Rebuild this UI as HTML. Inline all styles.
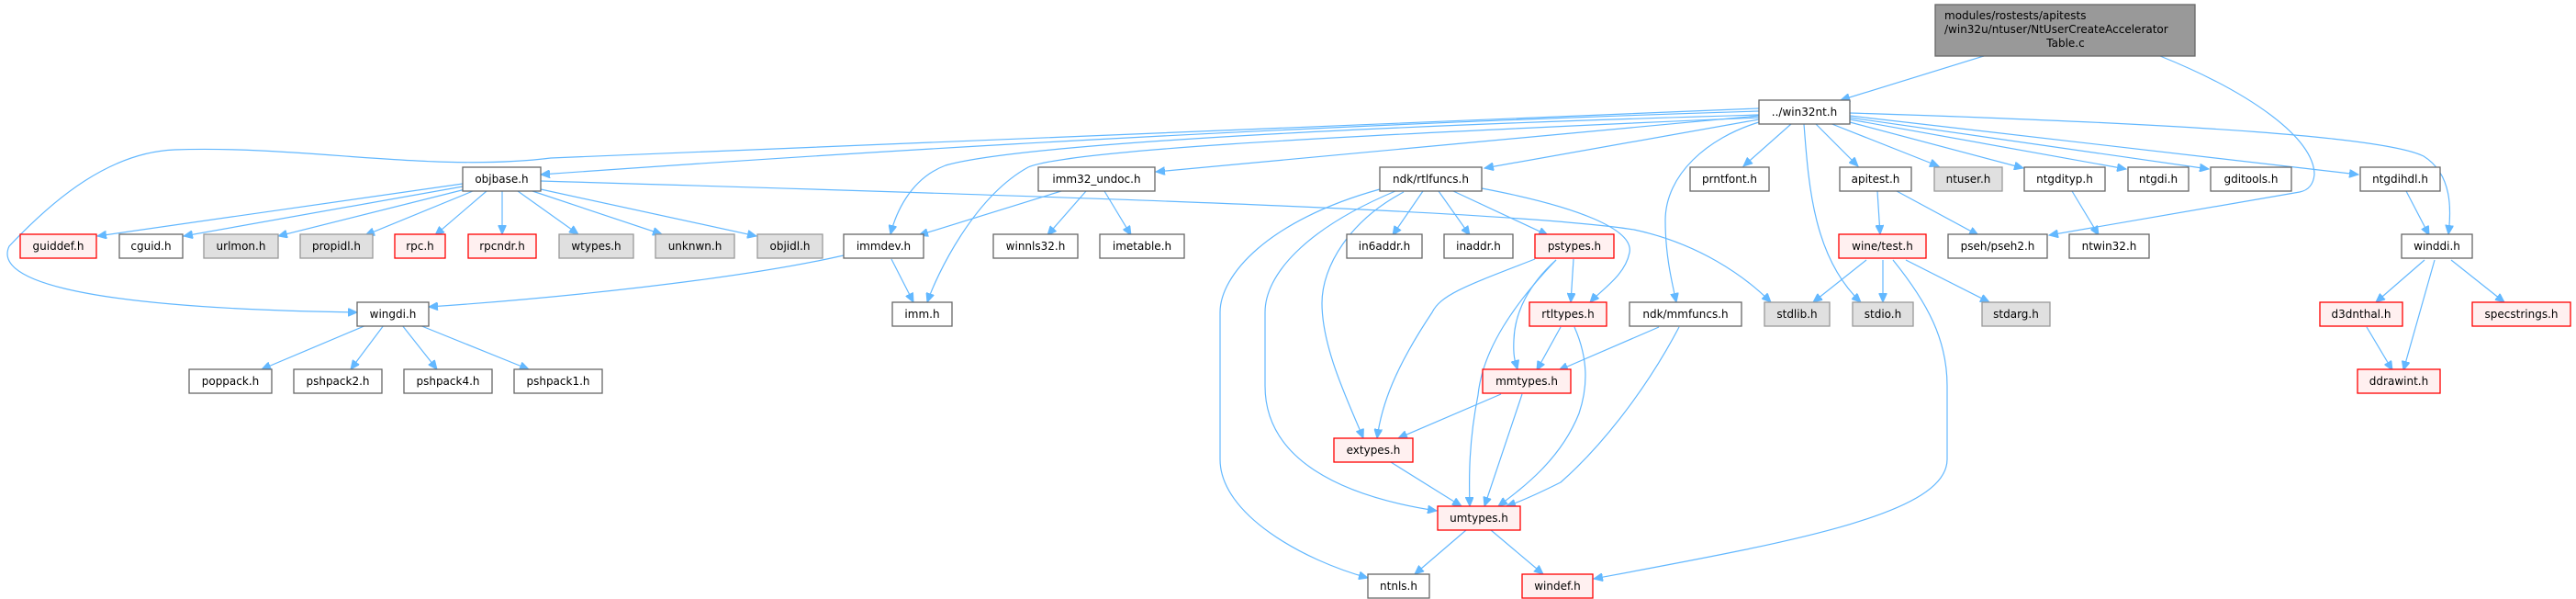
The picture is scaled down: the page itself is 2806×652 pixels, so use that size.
<!DOCTYPE html>
<html><head><meta charset="utf-8"><style>
html,body{margin:0;padding:0;background:#fff;}
svg{display:block;}
text{font-family:"DejaVu Sans","Liberation Sans",sans-serif;font-size:12px;fill:#000;}
.e{fill:none;stroke:#63b8ff;stroke-width:1.2;}
.w{fill:#fff;stroke:#666;stroke-width:1.3;}
.g{fill:#e0e0e0;stroke:#999;stroke-width:1.3;}
.r{fill:#fff0f0;stroke:#f00;stroke-width:1.3;}
</style></head><body>
<svg width="2806" height="652" viewBox="0 0 2806 652" xmlns="http://www.w3.org/2000/svg">
<defs><marker id="a" markerWidth="11" markerHeight="9" refX="10" refY="4.5" orient="auto" markerUnits="userSpaceOnUse"><path d="M0,0 L10,4.5 L0,9 z" fill="#63b8ff" stroke="#63b8ff"/></marker></defs>
<g marker-end="url(#a)">
<path class="e" d="M2161,61 L2005,109"/>
<path class="e" d="M2353,61 C2450,100 2521,150 2521,190 C2520,200 2515,207 2505,209 L2232,256"/>
<path class="e" d="M1916,121 C1300,140 800,175 589,190"/>
<path class="e" d="M1916,118 L600,172 C470,188 330,158 190,163 C120,166 60,215 10,268 C-5,300 60,335 389,340"/>
<path class="e" d="M1916,125 C1400,140 1100,160 1030,180 C990,195 975,235 970,255"/>
<path class="e" d="M1916,128 C1400,150 1160,165 1120,182 C1060,215 1020,300 1010,329"/>
<path class="e" d="M1916,126 L1259,187"/>
<path class="e" d="M1916,130 L1617,183"/>
<path class="e" d="M1951,135 L1899,181"/>
<path class="e" d="M1916,133 C1860,150 1814,190 1814,240 C1814,280 1822,310 1826,329"/>
<path class="e" d="M1965,135 C1970,200 1975,280 2027,329"/>
<path class="e" d="M1978,135 L2024,181"/>
<path class="e" d="M1993,134 L2112,181"/>
<path class="e" d="M2015,133 L2204,183"/>
<path class="e" d="M2015,130 L2316,184"/>
<path class="e" d="M2015,128 L2406,184"/>
<path class="e" d="M2015,126 L2569,190"/>
<path class="e" d="M2015,123 C2400,135 2600,150 2640,170 C2672,190 2670,230 2667,255"/>
<path class="e" d="M589,197 C1200,215 1650,230 1780,250 C1850,265 1900,300 1929,329"/>
<path class="e" d="M504,200 L106,257"/>
<path class="e" d="M504,203 L200,257"/>
<path class="e" d="M507,206 L303,257"/>
<path class="e" d="M515,208 L398,256"/>
<path class="e" d="M530,208 L474,256"/>
<path class="e" d="M547,208 L547,255"/>
<path class="e" d="M564,208 L630,255"/>
<path class="e" d="M580,208 L721,255"/>
<path class="e" d="M589,206 L824,257"/>
<path class="e" d="M1156,208 L1001,256"/>
<path class="e" d="M1183,208 L1141,256"/>
<path class="e" d="M1203,208 L1232,256"/>
<path class="e" d="M971,282 L995,329"/>
<path class="e" d="M919,278 C800,305 600,325 467,334"/>
<path class="e" d="M399,354 L285,402"/>
<path class="e" d="M418,354 L382,402"/>
<path class="e" d="M438,354 L476,402"/>
<path class="e" d="M457,354 L576,402"/>
<path class="e" d="M1503,206 C1380,240 1329,300 1329,340 L1329,500 C1329,560 1420,610 1490,629"/>
<path class="e" d="M1520,208 C1420,250 1378,300 1378,340 L1378,420 C1378,500 1460,540 1565,556"/>
<path class="e" d="M1529,209 C1470,240 1440,290 1440,330 C1440,380 1470,440 1485,477"/>
<path class="e" d="M1550,208 L1517,256"/>
<path class="e" d="M1567,208 L1601,256"/>
<path class="e" d="M1583,208 L1686,256"/>
<path class="e" d="M1614,205 C1720,225 1780,250 1775,275 C1770,300 1745,315 1732,329"/>
<path class="e" d="M1672,282 C1600,310 1570,320 1560,340 C1520,400 1505,440 1500,477"/>
<path class="e" d="M1695,283 C1650,330 1615,380 1610,430 C1600,480 1600,520 1601,551"/>
<path class="e" d="M1695,283 C1665,310 1650,340 1649,370 C1648,390 1651,395 1653,402"/>
<path class="e" d="M1714,282 L1711,329"/>
<path class="e" d="M1700,356 L1674,403"/>
<path class="e" d="M1715,356 C1730,390 1730,420 1720,450 C1700,500 1660,530 1632,551"/>
<path class="e" d="M1807,356 L1698,403"/>
<path class="e" d="M1829,356 C1790,430 1740,490 1700,525 C1670,540 1650,548 1641,551"/>
<path class="e" d="M1635,429 L1523,477"/>
<path class="e" d="M1658,429 L1617,551"/>
<path class="e" d="M1515,503 L1592,551"/>
<path class="e" d="M1597,577 L1541,625"/>
<path class="e" d="M1624,577 L1681,625"/>
<path class="e" d="M2062,283 C2100,330 2121,370 2121,420 L2121,500 C2121,560 1950,590 1736,630"/>
<path class="e" d="M2045,208 L2048,255"/>
<path class="e" d="M2066,208 L2155,256"/>
<path class="e" d="M2257,208 L2286,256"/>
<path class="e" d="M2033,283 L1975,329"/>
<path class="e" d="M2051,283 L2051,329"/>
<path class="e" d="M2076,283 L2167,329"/>
<path class="e" d="M2621,208 L2646,256"/>
<path class="e" d="M2641,283 L2588,329"/>
<path class="e" d="M2652,283 L2618,403"/>
<path class="e" d="M2670,283 L2728,329"/>
<path class="e" d="M2578,356 L2606,403"/>
</g>
<rect x="2108" y="5" width="283" height="56" fill="#999" stroke="#666" stroke-width="1.3"/>
<text x="2118" y="21">modules/rostests/apitests</text>
<text x="2118" y="36">/win32u/ntuser/NtUserCreateAccelerator</text>
<text x="2250" y="51" text-anchor="middle">Table.c</text>
<g text-anchor="middle">
<rect class="w" x="1916" y="109" width="99" height="26"/><text x="1965.5" y="126">../win32nt.h</text>
<rect class="w" x="504" y="182" width="85" height="26"/><text x="546.5" y="199">objbase.h</text>
<rect class="w" x="1131" y="182" width="127" height="26"/><text x="1194.5" y="199">imm32_undoc.h</text>
<rect class="w" x="1503" y="182" width="111" height="26"/><text x="1558.5" y="199">ndk/rtlfuncs.h</text>
<rect class="w" x="1841" y="182" width="86" height="26"/><text x="1884" y="199">prntfont.h</text>
<rect class="w" x="2004" y="182" width="78" height="26"/><text x="2043" y="199">apitest.h</text>
<rect class="g" x="2107" y="182" width="74" height="26"/><text x="2144" y="199">ntuser.h</text>
<rect class="w" x="2205" y="182" width="88" height="26"/><text x="2249" y="199">ntgdityp.h</text>
<rect class="w" x="2318" y="182" width="66" height="26"/><text x="2351" y="199">ntgdi.h</text>
<rect class="w" x="2408" y="182" width="88" height="26"/><text x="2452" y="199">gditools.h</text>
<rect class="w" x="2571" y="182" width="87" height="26"/><text x="2614.5" y="199">ntgdihdl.h</text>
<rect class="r" x="22" y="255" width="83" height="26"/><text x="63.5" y="272">guiddef.h</text>
<rect class="w" x="130" y="255" width="69" height="26"/><text x="164.5" y="272">cguid.h</text>
<rect class="g" x="222" y="255" width="81" height="26"/><text x="262.5" y="272">urlmon.h</text>
<rect class="g" x="327" y="255" width="79" height="26"/><text x="366.5" y="272">propidl.h</text>
<rect class="r" x="430" y="255" width="55" height="26"/><text x="457.5" y="272">rpc.h</text>
<rect class="r" x="510" y="255" width="74" height="26"/><text x="547" y="272">rpcndr.h</text>
<rect class="g" x="609" y="255" width="81" height="26"/><text x="649.5" y="272">wtypes.h</text>
<rect class="g" x="714" y="255" width="86" height="26"/><text x="757" y="272">unknwn.h</text>
<rect class="g" x="825" y="255" width="71" height="26"/><text x="860.5" y="272">objidl.h</text>
<rect class="w" x="919" y="255" width="87" height="26"/><text x="962.5" y="272">immdev.h</text>
<rect class="w" x="1082" y="255" width="92" height="26"/><text x="1128" y="272">winnls32.h</text>
<rect class="w" x="1198" y="255" width="92" height="26"/><text x="1244" y="272">imetable.h</text>
<rect class="w" x="1467" y="255" width="82" height="26"/><text x="1508" y="272">in6addr.h</text>
<rect class="w" x="1573" y="255" width="75" height="26"/><text x="1610.5" y="272">inaddr.h</text>
<rect class="r" x="1672" y="255" width="86" height="26"/><text x="1715" y="272">pstypes.h</text>
<rect class="r" x="2003" y="255" width="95" height="26"/><text x="2050.5" y="272">wine/test.h</text>
<rect class="w" x="2122" y="255" width="108" height="26"/><text x="2176" y="272">pseh/pseh2.h</text>
<rect class="w" x="2254" y="255" width="87" height="26"/><text x="2297.5" y="272">ntwin32.h</text>
<rect class="w" x="2616" y="255" width="77" height="26"/><text x="2654.5" y="272">winddi.h</text>
<rect class="w" x="389" y="329" width="78" height="26"/><text x="428" y="346">wingdi.h</text>
<rect class="w" x="972" y="329" width="65" height="26"/><text x="1004.5" y="346">imm.h</text>
<rect class="r" x="1666" y="329" width="84" height="26"/><text x="1708" y="346">rtltypes.h</text>
<rect class="w" x="1775" y="329" width="122" height="26"/><text x="1836" y="346">ndk/mmfuncs.h</text>
<rect class="g" x="1922" y="329" width="71" height="26"/><text x="1957.5" y="346">stdlib.h</text>
<rect class="g" x="2018" y="329" width="66" height="26"/><text x="2051" y="346">stdio.h</text>
<rect class="g" x="2159" y="329" width="74" height="26"/><text x="2196" y="346">stdarg.h</text>
<rect class="r" x="2527" y="329" width="90" height="26"/><text x="2572" y="346">d3dnthal.h</text>
<rect class="r" x="2693" y="329" width="107" height="26"/><text x="2746.5" y="346">specstrings.h</text>
<rect class="w" x="206" y="402" width="90" height="26"/><text x="251" y="419">poppack.h</text>
<rect class="w" x="320" y="402" width="96" height="26"/><text x="368" y="419">pshpack2.h</text>
<rect class="w" x="440" y="402" width="96" height="26"/><text x="488" y="419">pshpack4.h</text>
<rect class="w" x="560" y="402" width="96" height="26"/><text x="608" y="419">pshpack1.h</text>
<rect class="r" x="1615" y="402" width="96" height="26"/><text x="1663" y="419">mmtypes.h</text>
<rect class="r" x="2568" y="402" width="90" height="26"/><text x="2613" y="419">ddrawint.h</text>
<rect class="r" x="1453" y="477" width="86" height="26"/><text x="1496" y="494">extypes.h</text>
<rect class="r" x="1566" y="551" width="90" height="26"/><text x="1611" y="568">umtypes.h</text>
<rect class="w" x="1490" y="625" width="67" height="26"/><text x="1523.5" y="642">ntnls.h</text>
<rect class="r" x="1658" y="625" width="77" height="26"/><text x="1696.5" y="642">windef.h</text>
</g>
</svg>
</body></html>
